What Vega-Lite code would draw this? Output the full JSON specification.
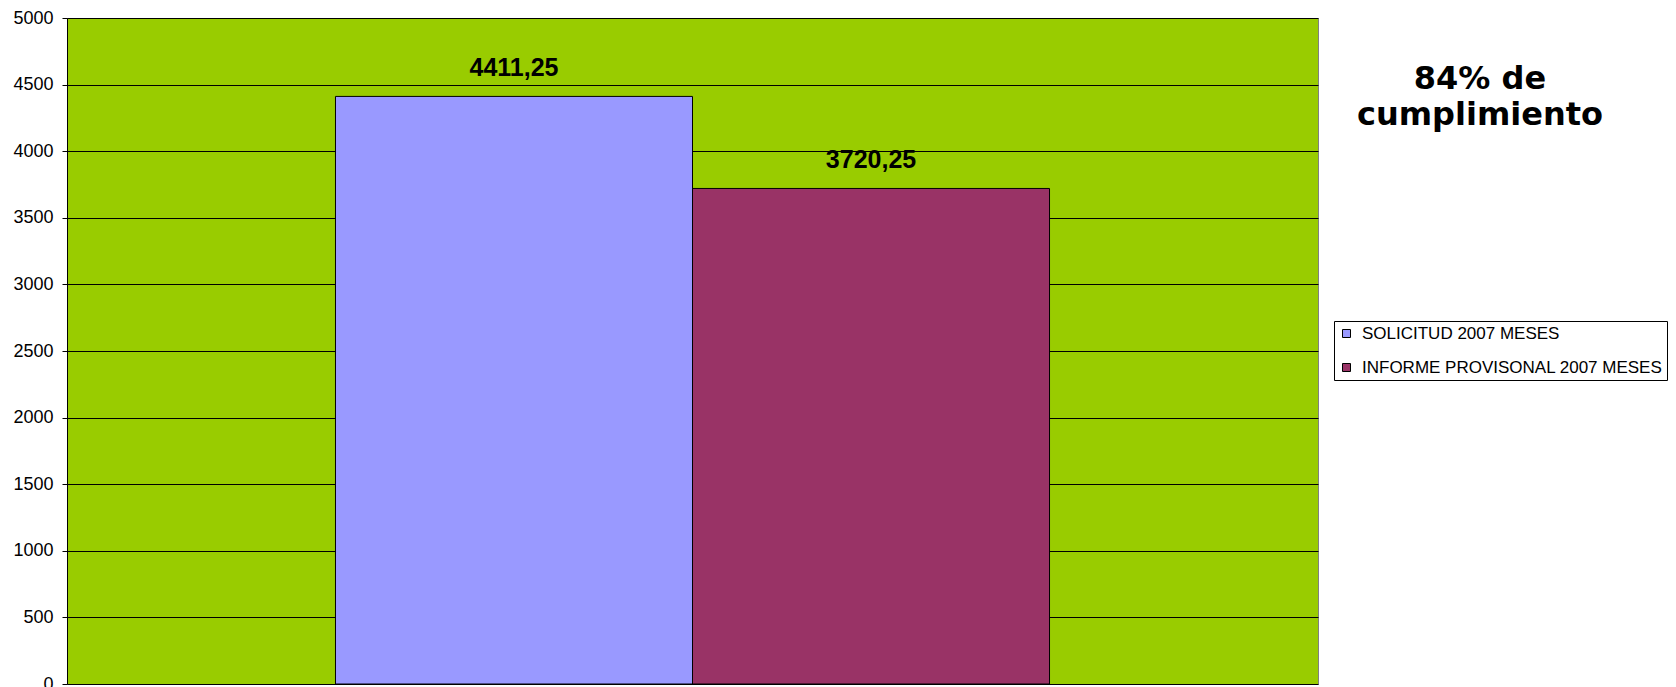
{
  "$schema": "https://vega.github.io/schema/vega-lite/v6.json",
  "autosize": "none",
  "padding": {"left": 67, "top": 18, "right": 358, "bottom": 3},
  "width": 1251,
  "height": 666,
  "background": "white",
  "config": {
    "view": {"fill": "#99CC00", "stroke": "#808080", "strokeWidth": 1}
  },
  "title": {
    "text": ["84% de", "cumplimiento"],
    "orient": "top",
    "anchor": "end",
    "frame": "group",
    "align": "center",
    "baseline": "top",
    "offset": 0,
    "dx": 162,
    "dy": 123,
    "font": "DejaVu Sans",
    "fontSize": 32,
    "fontWeight": "bold",
    "lineHeight": 36,
    "color": "black"
  },
  "data": {
    "values": [
      {"serie": "SOLICITUD 2007 MESES", "valor": 4411.25, "etiqueta": "4411,25"},
      {"serie": "INFORME PROVISONAL 2007 MESES", "valor": 3720.25, "etiqueta": "3720,25"}
    ]
  },
  "encoding": {
    "x": {
      "field": "serie",
      "type": "nominal",
      "sort": null,
      "scale": {"paddingInner": 0, "paddingOuter": 0.752},
      "axis": null
    },
    "y": {
      "field": "valor",
      "type": "quantitative",
      "scale": {"domain": [0, 5000], "nice": false},
      "axis": {
        "title": null,
        "values": [0, 500, 1000, 1500, 2000, 2500, 3000, 3500, 4000, 4500, 5000],
        "format": "d",
        "grid": true,
        "gridColor": "black",
        "gridOpacity": 1,
        "gridWidth": 1,
        "domainColor": "black",
        "domainWidth": 1,
        "tickColor": "black",
        "tickSize": 5,
        "labelPadding": 9,
        "labelFont": "Liberation Sans",
        "labelFontSize": 18,
        "labelColor": "black"
      }
    }
  },
  "layer": [
    {
      "mark": {"type": "bar", "stroke": "black", "strokeWidth": 1},
      "encoding": {
        "color": {
          "field": "serie",
          "type": "nominal",
          "sort": null,
          "scale": {"range": ["#9999FF", "#993366"]},
          "legend": {
            "title": null,
            "orient": "none",
            "legendX": 1267,
            "legendY": 303,
            "direction": "vertical",
            "symbolType": "square",
            "symbolSize": 64,
            "symbolStrokeColor": "black",
            "symbolStrokeWidth": 1,
            "symbolOpacity": 1,
            "labelFont": "Liberation Sans",
            "labelFontSize": 17,
            "labelColor": "black",
            "labelOffset": 7,
            "labelLimit": 0,
            "rowPadding": 16,
            "padding": 4,
            "strokeColor": "black",
            "fillColor": "white"
          }
        }
      }
    },
    {
      "mark": {
        "type": "text",
        "dy": -20,
        "baseline": "alphabetic",
        "font": "Liberation Sans",
        "fontSize": 25,
        "fontWeight": "bold",
        "color": "black"
      },
      "encoding": {
        "text": {"field": "etiqueta", "type": "nominal"}
      }
    }
  ]
}
